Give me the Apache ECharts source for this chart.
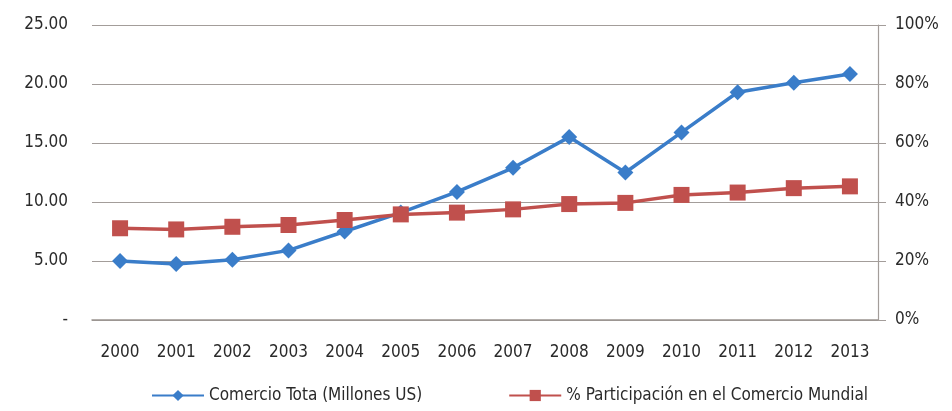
<!DOCTYPE html>
<html>
<head>
<meta charset="utf-8">
<title>Comercio</title>
<script src="https://cdn.jsdelivr.net/npm/echarts@6/dist/echarts.min.js"></script>
<style>
  body { margin: 0; background: #fff; }
  #chart { width: 952px; height: 411px; }
</style>
</head>
<body>
<div id="chart"></div>
<script>
var years = ['2000', '2001', '2002', '2003', '2004', '2005', '2006', '2007', '2008', '2009', '2010', '2011', '2012', '2013'];
var comercio = [5.0, 4.75, 5.1, 5.9, 7.5, 9.1, 10.85, 12.9, 15.5, 12.5, 15.9, 19.3, 20.1, 20.85];
var participacion = [31.1, 30.7, 31.6, 32.2, 33.9, 35.8, 36.4, 37.5, 39.3, 39.7, 42.4, 43.2, 44.7, 45.3];

var font = '"Liberation Sans Narrow", "DejaVu Sans Condensed", "Open Sans", sans-serif';
var blue = '#3a7dc9';
var red = '#c0504d';

var myChart = echarts.init(document.getElementById('chart'));
var option = {
    animation: false,
    textStyle: { fontFamily: font },
    grid: { left: 92, right: 74, top: 25, bottom: 91 },
    legend: {
        bottom: 2,
        left: 146,
        itemWidth: 52,
        itemHeight: 14,
        itemGap: 86,
        textStyle: { fontSize: 17, color: '#2a2a2a', fontFamily: font },
        data: ['Comercio Tota (Millones US)', '% Participación en el Comercio Mundial']
    },
    xAxis: {
        type: 'category',
        data: years,
        axisLine: { lineStyle: { color: '#9a9490', width: 1.5 } },
        axisTick: { show: false },
        axisLabel: { fontSize: 17, color: '#2a2a2a', margin: 24, fontFamily: font }
    },
    yAxis: [
        {
            type: 'value',
            min: 0,
            max: 25,
            interval: 5,
            axisLine: { show: false },
            axisTick: { show: false },
            splitLine: { lineStyle: { color: '#a39d9a', width: 1.2 } },
            axisLabel: {
                fontSize: 17, color: '#2a2a2a', margin: 24, fontFamily: font,
                formatter: function (v) { return v === 0 ? '-' : v.toFixed(2); }
            }
        },
        {
            type: 'value',
            min: 0,
            max: 100,
            interval: 20,
            position: 'right',
            axisLine: { show: true, lineStyle: { color: '#a39d9a', width: 1.2 } },
            axisTick: { show: true, length: 8, lineStyle: { color: '#a39d9a' } },
            splitLine: { show: false },
            axisLabel: {
                fontSize: 17, color: '#2a2a2a', margin: 17, fontFamily: font,
                formatter: '{value}%'
            }
        }
    ],
    series: [
        {
            name: 'Comercio Tota (Millones US)',
            type: 'line',
            yAxisIndex: 0,
            data: comercio,
            symbol: 'diamond',
            symbolSize: 16,
            lineStyle: { color: blue, width: 3.5 },
            itemStyle: { color: blue },
            z: 3
        },
        {
            name: '% Participación en el Comercio Mundial',
            type: 'line',
            yAxisIndex: 1,
            data: participacion,
            symbol: 'rect',
            symbolSize: 16,
            lineStyle: { color: red, width: 3.5 },
            itemStyle: { color: red },
            z: 4
        }
    ]
};
myChart.setOption(option);
</script>
</body>
</html>
